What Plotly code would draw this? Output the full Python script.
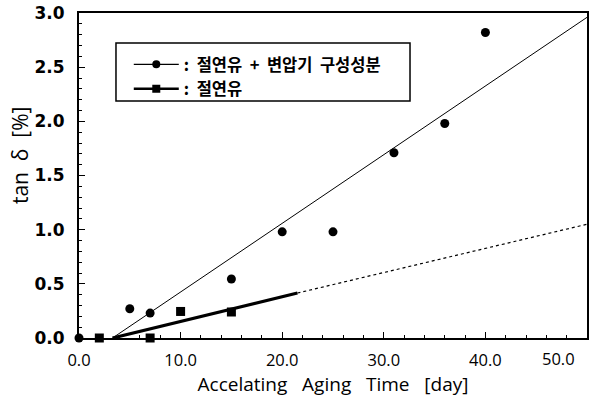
import plotly.graph_objects as go

# Data
days_oil_comp = [0, 5, 7, 15, 20, 25, 31, 36, 40]
tan_oil_comp = [0.0, 0.27, 0.23, 0.545, 0.98, 0.98, 1.71, 1.98, 2.82]

days_oil = [2, 7, 10, 15]
tan_oil = [0.0, 0.0, 0.245, 0.24]

# fitted trend lines (endpoints)
fit1_x = [3.3, 50.0]
fit1_y = [0.0, 2.96]
fit2_x = [3.3, 21.5]
fit2_y = [0.0, 0.415]
fit2_ext_x = [21.5, 50.0]
fit2_ext_y = [0.415, 1.05]

x_ticks = [0, 10, 20, 30, 40, 50]
x_labels = ["0.0", "10.0", "20.0", "30.0", "40.0", ""]
last_x_label = "50.0"
y_ticks = [0, 0.5, 1, 1.5, 2, 2.5, 3]
y_labels = ["0.0", "0.5", "1.0", "1.5", "2.0", "2.5", "3.0"]

NB = "\u00a0"
name1 = ":" + NB * 2 + "절연유" + NB * 2 + "+" + NB * 2 + "변압기" + NB * 2 + "구성성분"
name2 = ":" + NB * 2 + "절연유"

fig = go.Figure()
fig.add_trace(go.Scatter(x=fit1_x, y=fit1_y, mode="lines",
                         line=dict(color="black", width=1), showlegend=False))
fig.add_trace(go.Scatter(x=fit2_x, y=fit2_y, mode="lines",
                         line=dict(color="black", width=3.2), showlegend=False))
fig.add_trace(go.Scatter(x=fit2_ext_x, y=fit2_ext_y, mode="lines",
                         line=dict(color="black", width=1.2, dash="dot"), showlegend=False))
fig.add_trace(go.Scatter(x=days_oil_comp, y=tan_oil_comp, mode="markers",
                         marker=dict(symbol="circle", size=9, color="black"),
                         cliponaxis=False, showlegend=False))
fig.add_trace(go.Scatter(x=days_oil, y=tan_oil, mode="markers",
                         marker=dict(symbol="square", size=9, color="black"),
                         cliponaxis=False, showlegend=False))
# legend entries
fig.add_trace(go.Scatter(x=[None], y=[None], mode="lines+markers", name=name1,
                         line=dict(color="black", width=1.2),
                         marker=dict(symbol="circle", size=8, color="black")))
fig.add_trace(go.Scatter(x=[None], y=[None], mode="lines+markers", name=name2,
                         line=dict(color="black", width=2.5),
                         marker=dict(symbol="square", size=8, color="black")))

fig.update_layout(
    width=589, height=398,
    margin=dict(l=79, r=2, t=13, b=60),
    paper_bgcolor="white", plot_bgcolor="white",
    font=dict(family="DejaVu Sans", color="black"),
    legend=dict(x=0.098, y=0.895, xanchor="left", yanchor="top",
                borderwidth=0, bgcolor="rgba(0,0,0,0)",
                itemwidth=45, tracegroupgap=0,
                font=dict(family="Noto Sans CJK KR", size=16.5, weight="bold"),
                traceorder="normal"),
    shapes=[dict(type="rect", xref="paper", yref="paper",
                 x0=0.0728, x1=0.6516, y0=0.729, y1=0.908,
                 line=dict(color="black", width=1.5), fillcolor="white", layer="below")],
    xaxis=dict(range=[0, 50], tickvals=x_ticks, ticktext=x_labels,
               ticks="inside", ticklen=6, tickwidth=1.2, tickcolor="black",
               minor=dict(dtick=2, ticks="inside", ticklen=3, tickcolor="black"),
               showline=True, linecolor="black", linewidth=2, mirror=True,
               showgrid=False, zeroline=False, automargin=False,
               ticklabelstandoff=6,
               tickfont=dict(family="Open Sans", size=16.5),
               title=dict(text="Accelating" + NB * 2 + " Aging" + NB * 2 + " Time" + NB * 2 + " [day]",
                          font=dict(family="Open Sans", size=19), standoff=5)),
    yaxis=dict(range=[0, 3], tickvals=y_ticks, ticktext=y_labels,
               ticks="inside", ticklen=6, tickwidth=1.2, tickcolor="black",
               minor=dict(dtick=0.1, ticks="inside", ticklen=3, tickcolor="black"),
               showline=True, linecolor="black", linewidth=2, mirror=True,
               showgrid=False, zeroline=False, automargin=False,
               ticklabelstandoff=9,
               tickfont=dict(family="DejaVu Sans", size=17, weight="bold")),
    annotations=[
        dict(text=last_x_label, xref="x", yref="paper", x=50, y=0,
             xanchor="right", yanchor="top", yshift=-7, xshift=-10, showarrow=False,
             font=dict(family="Open Sans", size=16.5)),
        dict(text="tan" + NB * 2 + "δ" + NB * 2 + "[%]", xref="paper", yref="paper",
             x=-0.116, y=0.563,
             xanchor="center", yanchor="middle", textangle=-90, showarrow=False,
             font=dict(family="Open Sans", size=21)),
    ],
)

fig.write_html("out.html", config={"displayModeBar": False},
               post_script="document.body.style.margin='0';")
